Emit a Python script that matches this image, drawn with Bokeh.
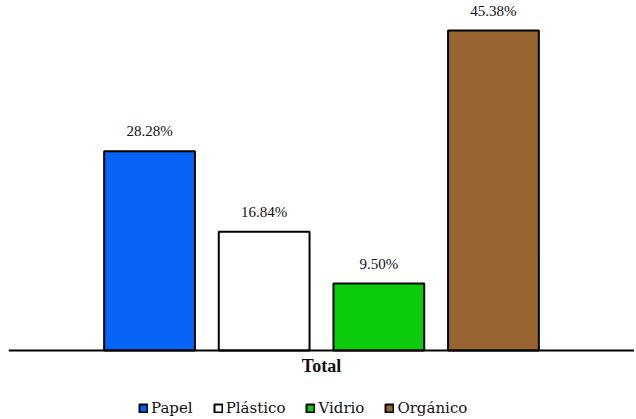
from bokeh.plotting import figure
from bokeh.models import ColumnDataSource, FactorRange, Range1d, Legend, LegendItem, LabelSet, Span
from bokeh.transform import dodge
from bokeh.embed import file_html
from bokeh.resources import INLINE

group = ["Total"]
series = ["Papel", "Plástico", "Vidrio", "Orgánico"]
values = [28.28, 16.84, 9.50, 45.38]
colors = ["#0563F5", "#FFFFFF", "#0DCC0D", "#98642F"]
offsets = [-0.2747, -0.0916, 0.0916, 0.2747]

FONT = "DejaVu Serif"

p = figure(frame_width=626, frame_height=418, x_range=FactorRange(*group), y_range=Range1d(-9.65, 49.65),
           output_backend="svg", toolbar_location=None,
           min_border_left=8, min_border_right=0, min_border_top=0, min_border_bottom=0)
p.outline_line_color = None
p.xgrid.visible = False
p.ygrid.visible = False
p.yaxis.visible = False
p.xaxis.visible = False

p.add_layout(Span(location=0, dimension="width", line_color="black", line_width=2))

items = []
for name, v, c, off in zip(series, values, colors, offsets):
    src = ColumnDataSource(dict(x=group, top=[v], label=[f"{v:.2f}%"]))
    r = p.vbar(x=dodge("x", off, range=p.x_range), top="top", width=0.145, source=src,
               fill_color=c, line_color="black", line_width=2)
    lab = LabelSet(x=dodge("x", off, range=p.x_range), y="top", text="label", source=src,
                   text_align="center", text_baseline="bottom", y_offset=12,
                   text_font=FONT, text_font_size="15px", text_color="#111111")
    p.add_layout(lab)
    items.append(LegendItem(label=name, renderers=[r]))

cat_src = ColumnDataSource(dict(x=group, y=[0], label=group))
p.add_layout(LabelSet(x="x", y="y", text="label", source=cat_src, text_align="center",
                      text_baseline="middle", y_offset=-16, text_font=FONT,
                      text_font_style="bold", text_font_size="18px", text_color="#111111"))

legend = Legend(items=items, orientation="horizontal", location=(130, 1),
                label_text_font=FONT, label_text_font_size="15px", label_text_color="#111111",
                glyph_width=10, glyph_height=10, label_standoff=3, spacing=20,
                border_line_color=None, background_fill_alpha=0, padding=0, margin=0,
                label_height=16)
p.add_layout(legend, "center")

open("out.html", "w").write(file_html(p, INLINE))
